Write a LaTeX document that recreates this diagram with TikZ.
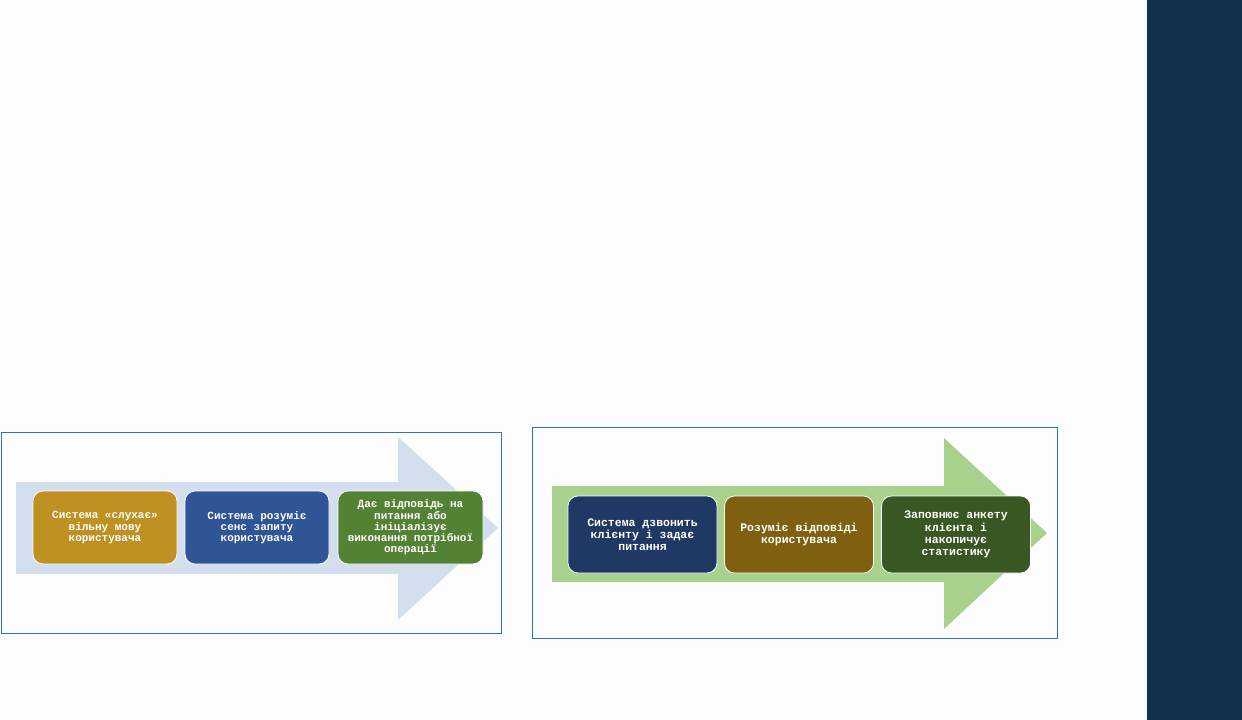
\documentclass[tikz,border=0pt]{standalone}
\usepackage{fontspec}
\setmonofont{Liberation Mono}
\definecolor{bgwhite}{HTML}{FDFDFD}
\definecolor{sidebar}{HTML}{14304F}
\definecolor{framecol}{HTML}{2E75B6}
\definecolor{arrowA}{HTML}{D3DEEE}
\definecolor{arrowB}{HTML}{A9D18E}
\definecolor{goldbox}{HTML}{BF9022}
\definecolor{bluebox}{HTML}{2F5597}
\definecolor{greenbox}{HTML}{548235}
\definecolor{navybox}{HTML}{203864}
\definecolor{brownbox}{HTML}{7F6011}
\definecolor{dgreenbox}{HTML}{385723}
\tikzset{
  stepA/.style={rounded corners=10pt, draw=white, line width=0.8pt, text=white,
    minimum width=144pt, minimum height=73pt, inner sep=0pt, align=center,
    font=\ttfamily\bfseries\fontsize{11}{11.3}\selectfont},
  stepB/.style={rounded corners=10pt, draw=white, line width=0.8pt, text=white,
    minimum width=149pt, minimum height=77pt, inner sep=0pt, align=center,
    font=\ttfamily\bfseries\fontsize{11.5}{12.2}\selectfont},
  panelframe/.style={draw=framecol, line width=1pt},
}
\begin{document}
\begin{tikzpicture}[x=1pt,y=-1pt]
\useasboundingbox (0,0) rectangle (1242,720);
\fill[bgwhite] (0,0) rectangle (1242,720);
\fill[sidebar] (1147,0) rectangle (1242,720);

% panel 1
\draw[panelframe] (1.5,432.5) rectangle (501,633.5);
\fill[arrowA] (16,482) -- (398,482) -- (398,437) -- (498,528) -- (398,620) -- (398,574) -- (16,574) -- cycle;
\node[stepA, fill=goldbox] (a1) at (105,527.5) {Система «слухає»\\вільну мову\\користувача};
\node[stepA, fill=bluebox] (a2) at (257,527.5) {Система розуміє\\сенс запиту\\користувача};
\node[stepA, fill=greenbox, minimum width=145pt] (a3) at (410.5,527.5) {Дає відповідь на\\питання або\\ініціалізує\\виконання потрібної\\операції};

% panel 2
\draw[panelframe] (532,427) rectangle (1057,638);
\fill[arrowB] (552,486) -- (944,486) -- (944,438) -- (1047,533) -- (944,629) -- (944,582) -- (552,582) -- cycle;
\node[stepB, fill=navybox] (b1) at (642.5,534.5) {Система дзвонить\\клієнту і задає\\питання};
\node[stepB, fill=brownbox] (b2) at (799,534.5) {Розуміє відповіді\\користувача};
\node[stepB, fill=dgreenbox] (b3) at (956,534.5) {Заповнює анкету\\клієнта і\\накопичує\\статистику};
\end{tikzpicture}
\end{document}
